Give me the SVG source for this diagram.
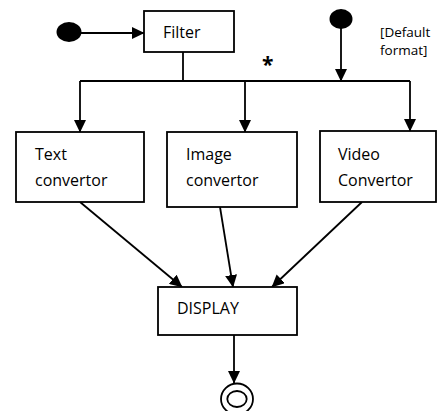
<svg xmlns="http://www.w3.org/2000/svg" width="437" height="411" viewBox="0 0 437 411">
<defs>
<marker id="arr" markerUnits="userSpaceOnUse" markerWidth="14" markerHeight="12" refX="12" refY="6" orient="auto">
<path d="M0,0 L12.5,6 L0,12 Z" fill="#000"/>
</marker>
<style>
.box{fill:#fff;stroke:#000;stroke-width:1.8}
.lbl{font-family:"Open Sans","Liberation Sans",sans-serif;font-size:16px;fill:#000}
.sm{font-family:"Open Sans","Liberation Sans",sans-serif;font-size:13.5px;fill:#000}
.ln{fill:none;stroke:#000;stroke-width:1.8}
.ar{fill:none;stroke:#000;stroke-width:1.8;marker-end:url(#arr)}
</style>
</defs>
<rect width="437" height="411" fill="#fff"/>
<g id="connectors">
<line class="ar" x1="80" y1="33" x2="144" y2="33"/>
<polyline class="ln" points="183,52 183,81"/>
<polyline class="ln" points="80,81 410,81"/>
<line class="ar" x1="80" y1="81" x2="80" y2="132"/>
<line class="ar" x1="245" y1="81" x2="245" y2="132"/>
<line class="ar" x1="410" y1="81" x2="410" y2="131"/>
<line class="ar" x1="341" y1="27" x2="341" y2="81"/>
<line class="ar" x1="80" y1="202" x2="182" y2="287"/>
<line class="ar" x1="220" y1="207" x2="233" y2="287"/>
<line class="ar" x1="362" y1="202" x2="272" y2="287"/>
<line class="ar" x1="234" y1="335" x2="234" y2="383"/>
</g>
<g id="start1"><ellipse cx="69" cy="32" rx="12.5" ry="10" fill="#000"/></g>
<g id="start2"><ellipse cx="341" cy="19" rx="11.5" ry="10" fill="#000"/></g>
<g id="filter"><rect class="box" x="144" y="11" width="90" height="41"/><text class="lbl" x="163" y="38">Filter</text></g>
<g id="guard"><text class="lbl" x="262" y="72" style="font-size:21px;font-weight:bold">*</text><text class="sm" x="380" y="37">[Default</text><text class="sm" x="380" y="55">format]</text></g>
<g id="text-conv"><rect class="box" x="16" y="132" width="128" height="70"/><text class="lbl" x="35" y="160">Text</text><text class="lbl" x="35" y="186">convertor</text></g>
<g id="image-conv"><rect class="box" x="167" y="132" width="130" height="75"/><text class="lbl" x="186" y="160">Image</text><text class="lbl" x="186" y="186">convertor</text></g>
<g id="video-conv"><rect class="box" x="320" y="131" width="116" height="71"/><text class="lbl" x="338" y="160">Video</text><text class="lbl" x="338" y="186">Convertor</text></g>
<g id="display"><rect class="box" x="158" y="287" width="139" height="48"/><text class="lbl" x="177" y="314">DISPLAY</text></g>
<g id="end"><ellipse cx="237" cy="399" rx="16" ry="15.5" fill="#fff" stroke="#000" stroke-width="1.8"/><ellipse cx="237" cy="399" rx="9.7" ry="8" fill="none" stroke="#000" stroke-width="1.8"/></g>
</svg>
